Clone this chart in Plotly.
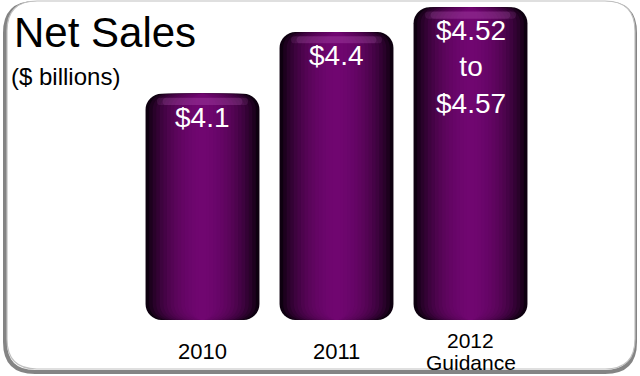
import numpy as np
import plotly.graph_objects as go

# Net sales by year ($ billions); 2012 is the guidance range
years = ["2010", "2011", "2012"]
net_sales = [4.1, 4.4, 4.52]
guidance_high = 4.57
year_notes = ["", "", "Guidance"]
axis_floor = 3.0

W, H = 640, 376
FONT = "Liberation Sans, Arial, sans-serif"
bar_width = 0.85
n_layers = 16
radius = 16

dark = np.array([14, 0, 16])
bright = np.array([112, 6, 112])


def shade(d):
    b = max(0.0, 1 - d ** 2) ** 0.9
    c = dark + (bright - dark) * b
    return "rgb(%d,%d,%d)" % tuple(c.round().astype(int))


xpos = list(range(len(years)))
fig = go.Figure()

# cylinder-like floating bars: stacked layers of decreasing width
for k in range(n_layers):
    frac = 1 - k / n_layers
    fig.add_trace(go.Bar(
        x=xpos, y=[v - axis_floor for v in net_sales], base=axis_floor,
        width=bar_width * frac,
        marker=dict(color=shade(frac), line=dict(width=0), cornerradius=radius),
        hoverinfo="skip", showlegend=False))

# soft glossy rim just under each bar top
for w, a in [(0.80, 0.12), (0.70, 0.12)]:
    fig.add_trace(go.Bar(
        x=xpos, y=[0.035] * len(xpos), base=[v - 0.055 for v in net_sales],
        width=bar_width * w,
        marker=dict(color="rgba(215,120,215,%.2f)" % a, line=dict(width=0), cornerradius=4),
        hoverinfo="skip", showlegend=False))

# value labels inside the bars
labels = ["$%s" % v for v in net_sales[:2]] + [
    "$%.2f<br>to<br>$%.2f" % (net_sales[2], guidance_high)]
for xp, v, txt in zip(xpos, net_sales, labels):
    fig.add_annotation(x=xp, y=v, xref="x", yref="y", text=txt, showarrow=False,
                       yanchor="top", yshift=-6,
                       font=dict(family=FONT, size=28, color="white"))

# category labels under the bars
for xp, yr, note in zip(xpos, years, year_notes):
    if note:
        fig.add_annotation(x=xp, y=1 - 340.5 / H, xref="x", yref="paper", text=yr,
                           showarrow=False, yanchor="middle", borderpad=0,
                           font=dict(family=FONT, size=21, color="black"))
        fig.add_annotation(x=xp, y=1 - 362.5 / H, xref="x", yref="paper", text=note,
                           showarrow=False, yanchor="middle", borderpad=0,
                           font=dict(family=FONT, size=21, color="black"))
    else:
        fig.add_annotation(x=xp, y=1 - 351 / H, xref="x", yref="paper", text=yr,
                           showarrow=False, yanchor="middle", borderpad=0,
                           font=dict(family=FONT, size=22, color="black"))

# titles
fig.add_annotation(x=12 / W, y=1 - 32 / H, xref="paper", yref="paper", text="Net Sales",
                   showarrow=False, xanchor="left", yanchor="middle",
                   font=dict(family=FONT, size=42, color="black"))
fig.add_annotation(x=9 / W, y=1 - 77 / H, xref="paper", yref="paper", text="($ billions)",
                   showarrow=False, xanchor="left", yanchor="middle",
                   font=dict(family=FONT, size=24, color="black"))


def rounded_rect(x0, y0, x1, y1, r):
    # pixel box -> paper path with quadratic corners
    px = lambda x: x / W
    py = lambda y: 1 - y / H
    return (f"M {px(x0 + r)} {py(y0)} L {px(x1 - r)} {py(y0)} "
            f"Q {px(x1)} {py(y0)} {px(x1)} {py(y0 + r)} "
            f"L {px(x1)} {py(y1 - r)} Q {px(x1)} {py(y1)} {px(x1 - r)} {py(y1)} "
            f"L {px(x0 + r)} {py(y1)} Q {px(x0)} {py(y1)} {px(x0)} {py(y1 - r)} "
            f"L {px(x0)} {py(y0 + r)} Q {px(x0)} {py(y0)} {px(x0 + r)} {py(y0)} Z")


# panel frame with a soft shadow toward the lower left
fig.add_shape(type="path", path=rounded_rect(5, 3, 635, 372, 30), xref="paper", yref="paper",
              line=dict(color="rgba(50,50,50,0.6)", width=4), fillcolor="white", layer="below")
fig.add_shape(type="path", path=rounded_rect(7, 1, 635, 369, 30), xref="paper", yref="paper",
              line=dict(color="#c0c0c0", width=1.2), fillcolor="white", layer="below")

px_per_unit = 205.7
y_lo = axis_floor - (H - 320) / px_per_unit
y_hi = axis_floor + 320 / px_per_unit
step = 134.0
fig.update_layout(
    width=W, height=H, margin=dict(l=0, r=0, t=0, b=0),
    paper_bgcolor="white", plot_bgcolor="rgba(0,0,0,0)",
    barmode="overlay", showlegend=False,
    xaxis=dict(range=[-202.5 / step, (W - 202.5) / step], visible=False,
               domain=[0, 1], fixedrange=True),
    yaxis=dict(range=[y_lo, y_hi], visible=False, domain=[0, 1], fixedrange=True),
)

fig.write_html("out.html")
